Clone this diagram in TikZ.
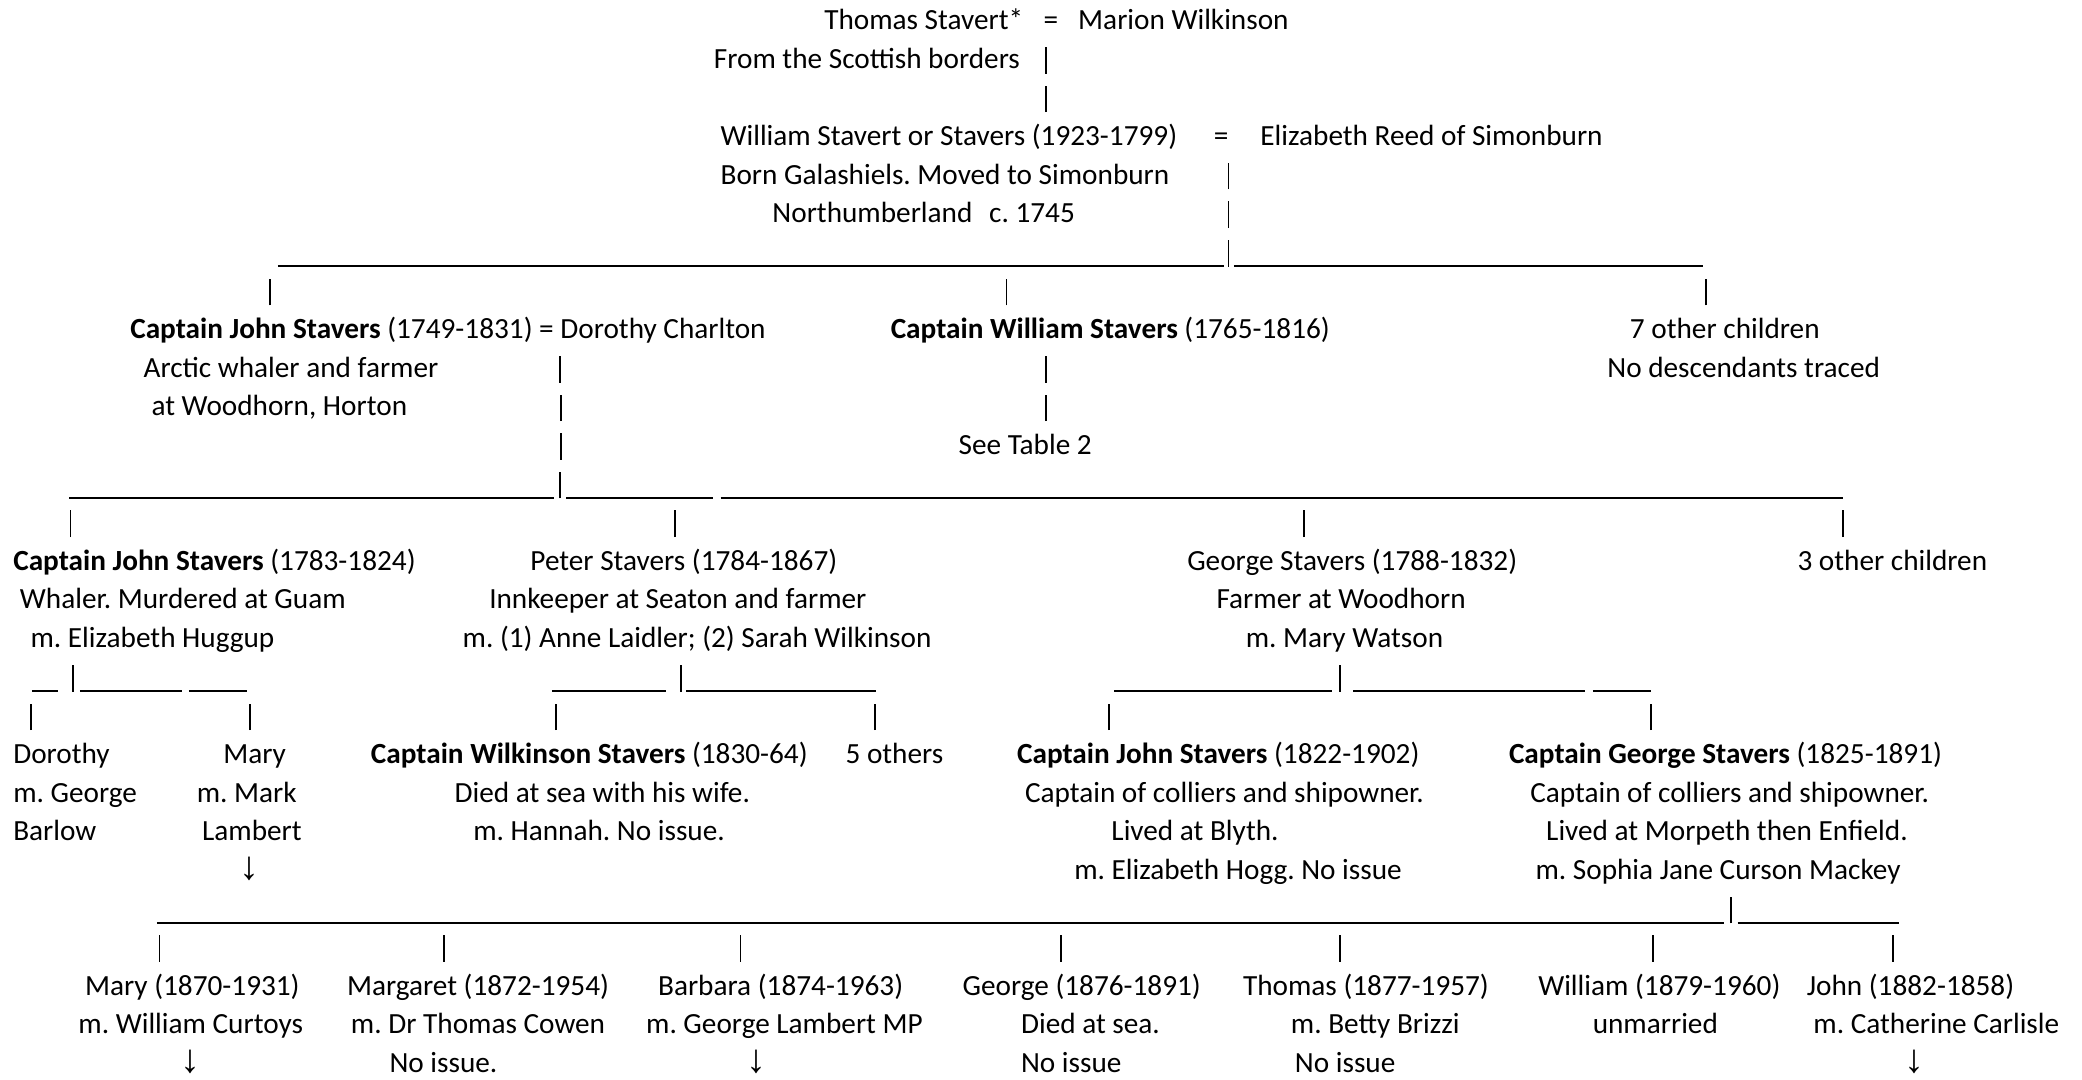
\documentclass[tikz,border=0pt]{standalone}
\usepackage{fontspec}
\setmainfont{Carlito}
\newfontfamily\arrowfont{Liberation Sans}
\newcommand{\mytxt}[4]{\node[txt] (#1) at (#2,{22.3+29.05*#3}) {#4};}
\newcommand{\myarrow}[3]{\node[arr] (#1) at (#2,{22.3+29.05*#3}) {\arrowfont ↓};}
\newcommand{\mypipe}[3]{\coordinate (#1a) at (#2,{22.3+29.05*#3+4}); \coordinate (#1b) at (#2,{22.3+29.05*#3-16}); \draw[barline] (#1a) -- (#1b);}
\newcommand{\myline}[4]{\coordinate (#1a) at (#2,{22.3+29.05*#4+3.5}); \coordinate (#1b) at (#3,{22.3+29.05*#4+3.5}); \draw[ruleline] (#1a) -- (#1b);}
\begin{document}
\frenchspacing
\begin{tikzpicture}[x=1pt,y=-1pt,
  txt/.style={anchor=base west, inner sep=0pt, outer sep=0pt, font=\fontsize{22}{26}\selectfont\frenchspacing},
  arr/.style={anchor=base, inner sep=0pt, outer sep=0pt, font=\fontsize{30}{32}\selectfont},
  barline/.style={line width=1.4pt, black},
  ruleline/.style={line width=1.5pt, black}]
\fill[white] (0,0) rectangle (1566,812.3);
\useasboundingbox (0,0) rectangle (1566,812.3);
% generation 0
\mytxt{thomas}{620}{0}{Thomas Stavert*}
\mytxt{eqa}{785}{0}{=}
\mytxt{marion}{811}{0}{Marion Wilkinson}
\mytxt{from}{537}{1}{From the Scottish borders}
\mypipe{pa1}{787}{1}
\mypipe{pa2}{787}{2}
% generation 1
\mytxt{william}{542}{3}{William Stavert or Stavers (1923-1799)}
\mytxt{eqb}{913}{3}{=}
\mytxt{elizabeth}{948}{3}{Elizabeth Reed of Simonburn}
\mytxt{born}{542}{4}{Born Galashiels. Moved to Simonburn}
\mypipe{pb1}{924}{4}
\mytxt{north}{581}{5}{Northumberland}
\mytxt{circa}{744}{5}{c. 1745}
\mypipe{pb2}{924}{5}
\myline{lb1}{209}{921}{6}
\mypipe{pb3}{924}{6}
\myline{lb2}{928}{1281}{6}
\mypipe{pc1}{203}{7}
\mypipe{pc2}{757}{7}
\mypipe{pc3}{1283}{7}
% generation 2
\mytxt{john}{98}{8}{\textbf{Captain John Stavers} (1749-1831) = Dorothy Charlton}
\mytxt{capwill}{670}{8}{\textbf{Captain William Stavers} (1765-1816)}
\mytxt{seven}{1226}{8}{7 other children}
\mytxt{arctic}{108}{9}{Arctic whaler and farmer}
\mypipe{pd1}{421}{9}
\mypipe{pe1}{787}{9}
\mytxt{nodesc}{1209}{9}{No descendants traced}
\mytxt{woodhorn}{114}{10}{at Woodhorn, Horton}
\mypipe{pd2}{422}{10}
\mypipe{pe2}{787}{10}
\mypipe{pd3}{422}{11}
\mytxt{table}{721}{11}{See Table 2}
\myline{ld1}{52}{417}{12}
\mypipe{pd4}{421}{12}
\myline{ld2}{426}{536}{12}
\myline{ld3}{542}{1386}{12}
\mypipe{pf1}{53}{13}
\mypipe{pf2}{508}{13}
\mypipe{pf3}{981}{13}
\mypipe{pf4}{1386}{13}
% generation 3
\mytxt{john2}{10}{14}{\textbf{Captain John Stavers} (1783-1824)}
\mytxt{peter}{399}{14}{Peter Stavers (1784-1867)}
\mytxt{george}{893}{14}{George Stavers (1788-1832)}
\mytxt{three}{1352}{14}{3 other children}
\mytxt{whaler}{15}{15}{Whaler. Murdered at Guam}
\mytxt{innkeeper}{368}{15}{Innkeeper at Seaton and farmer}
\mytxt{farmer}{915}{15}{Farmer at Woodhorn}
\mytxt{huggup}{23}{16}{m. Elizabeth Huggup}
\mytxt{laidler}{348}{16}{m. (1) Anne Laidler; (2) Sarah Wilkinson}
\mytxt{watson}{937}{16}{m. Mary Watson}
\myline{lg1}{24}{44}{17}
\mypipe{pg1}{55}{17}
\myline{lg2}{60}{137}{17}
\myline{lg3}{142}{186}{17}
\myline{lh1}{415}{501}{17}
\mypipe{ph1}{512}{17}
\myline{lh2}{516}{659}{17}
\myline{li1}{838}{1002}{17}
\mypipe{pi1}{1008}{17}
\myline{li2}{1018}{1192}{17}
\myline{li3}{1198}{1242}{17}
\mypipe{pj1}{23}{18}
\mypipe{pj2}{188}{18}
\mypipe{pj3}{418}{18}
\mypipe{pj4}{658}{18}
\mypipe{pj5}{834}{18}
\mypipe{pj6}{1242}{18}
% generation 4
\mytxt{dorothy}{10}{19}{Dorothy}
\mytxt{mary}{168}{19}{Mary}
\mytxt{wilkinson}{279}{19}{\textbf{Captain Wilkinson Stavers} (1830-64)}
\mytxt{five}{636}{19}{5 others}
\mytxt{john3}{765}{19}{\textbf{Captain John Stavers} (1822-1902)}
\mytxt{george2}{1135}{19}{\textbf{Captain George Stavers} (1825-1891)}
\mytxt{mgeorge}{10}{20}{m. George}
\mytxt{mmark}{148}{20}{m. Mark}
\mytxt{died}{342}{20}{Died at sea with his wife.}
\mytxt{colla}{771}{20}{Captain of colliers and shipowner.}
\mytxt{collb}{1151}{20}{Captain of colliers and shipowner.}
\mytxt{barlow}{10}{21}{Barlow}
\mytxt{lambert}{152}{21}{Lambert}
\mytxt{hannah}{356}{21}{m. Hannah. No issue.}
\mytxt{blyth}{836}{21}{Lived at Blyth.}
\mytxt{morpeth}{1163}{21}{Lived at Morpeth then Enfield.}
\myarrow{arra}{188}{22}
\mytxt{hogg}{808}{22}{m. Elizabeth Hogg. No issue}
\mytxt{sophia}{1155}{22}{m. Sophia Jane Curson Mackey}
\myline{lk1}{118}{1297}{23}
\mypipe{pk1}{1302}{23}
\myline{lk2}{1307}{1428}{23}
\mypipe{pl1}{120}{24}
\mypipe{pl2}{334}{24}
\mypipe{pl3}{557}{24}
\mypipe{pl4}{798}{24}
\mypipe{pl5}{1008}{24}
\mypipe{pl6}{1243}{24}
\mypipe{pl7}{1424}{24}
% generation 5
\mytxt{mary2}{64}{25}{Mary (1870-1931)}
\mytxt{margaret}{261}{25}{Margaret (1872-1954)}
\mytxt{barbara}{495}{25}{Barbara (1874-1963)}
\mytxt{george3}{724}{25}{George (1876-1891)}
\mytxt{thomas2}{935}{25}{Thomas (1877-1957)}
\mytxt{william2}{1157}{25}{William (1879-1960)}
\mytxt{john4}{1359}{25}{John (1882-1858)}
\mytxt{curtoys}{59}{26}{m. William Curtoys}
\mytxt{cowen}{264}{26}{m. Dr Thomas Cowen}
\mytxt{lambmp}{486}{26}{m. George Lambert MP}
\mytxt{diedsea}{768}{26}{Died at sea.}
\mytxt{brizzi}{971}{26}{m. Betty Brizzi}
\mytxt{unmarried}{1198}{26}{unmarried}
\mytxt{carlisle}{1364}{26}{m. Catherine Carlisle}
\myarrow{arrb}{143}{27}
\mytxt{noissa}{293}{27}{No issue.}
\myarrow{arrc}{569}{27}
\mytxt{noissb}{768}{27}{No issue}
\mytxt{noissc}{974}{27}{No issue}
\myarrow{arrd}{1440}{27}
\end{tikzpicture}
\end{document}
